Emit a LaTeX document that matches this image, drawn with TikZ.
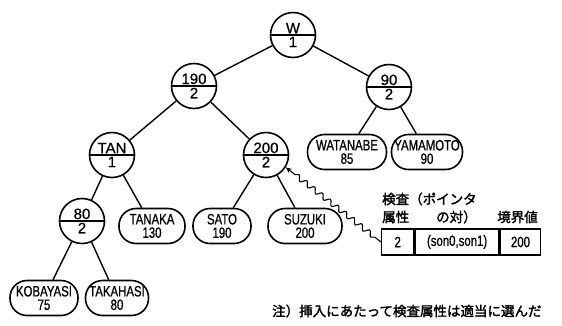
\documentclass[tikz,border=0pt]{standalone}
\usepackage{fontspec}
\setmainfont{Liberation Sans}[FakeBold=1]
\newfontfamily\circsf{Liberation Sans}[FakeBold=0.8]
\newfontfamily\narrowsf{Liberation Sans}[FakeStretch=0.76,FakeBold=0.8]
\newfontfamily\jp{Noto Sans CJK JP}[FakeBold=2]
\usetikzlibrary{shapes.multipart,decorations.pathmorphing,arrows.meta}
\begin{document}
\begin{tikzpicture}[x=1pt,y=-1pt,
  inode/.style={circle split,draw,line width=1.6pt,minimum size=45pt,inner sep=1pt,
    font=\circsf\fontsize{15}{15}\selectfont},
  leaf/.style={draw,line width=1.6pt,rounded corners=17pt,minimum height=35pt,inner sep=1pt,
    align=center,font=\narrowsf\fontsize{15}{13.5}\selectfont},
  edge/.style={line width=1.4pt},
  cell/.style={draw,line width=1.4pt,minimum height=26pt,inner sep=1pt,anchor=west,
    font=\narrowsf\fontsize{15}{13}\selectfont},
  jlab/.style={font=\jp\fontsize{13.5}{14}\selectfont,inner sep=0pt}]
\useasboundingbox (0,0) rectangle (562,325);
\node[inode] (w) at (293,35) {W\nodepart{lower}1};
\node[inode] (n190) at (194,86) {190\nodepart{lower}2};
\node[inode] (n90) at (389,87) {90\nodepart{lower}2};
\node[inode] (tan) at (112,155) {TAN\nodepart{lower}1};
\node[inode] (n200) at (266,155) {200\nodepart{lower}2};
\node[inode] (n80) at (82,221) {80\nodepart{lower}2};
\node[leaf,minimum width=66pt] (tanaka) at (152,226) {TANAKA\\130};
\node[leaf,minimum width=58pt] (sato) at (222,226) {SATO\\190};
\node[leaf,minimum width=74pt] (suzuki) at (305,226) {SUZUKI\\200};
\node[leaf,minimum width=79pt] (watanabe) at (347,152) {WATANABE\\85};
\node[leaf,minimum width=71pt] (yamamoto) at (427,152) {YAMAMOTO\\90};
\node[leaf,minimum width=68pt] (kobayasi) at (44,298) {KOBAYASI\\75};
\node[leaf,minimum width=63pt] (takahasi) at (117,298) {TAKAHASI\\80};
\draw[edge] (w) -- (n190);
\draw[edge] (w) -- (n90);
\draw[edge] (n190) -- (tan);
\draw[edge] (n190) -- (n200);
\draw[edge] (n90) -- (watanabe);
\draw[edge] (n90) -- (yamamoto);
\draw[edge] (tan) -- (n80);
\draw[edge] (tan) -- (tanaka);
\draw[edge] (n200) -- (sato);
\draw[edge] (n200) -- (suzuki);
\draw[edge] (n80) -- (kobayasi);
\draw[edge] (n80) -- (takahasi);
\node[cell,minimum width=32pt] (c1) at (381,242) {2};
\node[cell,minimum width=84pt] (c2) at (c1.east) {(son0,son1)};
\node[cell,minimum width=40pt] (c3) at (c2.east) {200};
\node[jlab,anchor=west] (l1) at (382,199) {検査（ポインタ};
\node[jlab,anchor=west] (l2) at (382,217) {属性};
\node[jlab,anchor=west] (l3) at (436,217) {の対）};
\node[jlab,anchor=east] (l4) at (538,217) {境界値};
\draw[line width=1.1pt,-{Stealth[length=6pt,width=5pt]},decorate,
  decoration={snake,amplitude=2.5pt,segment length=10pt,pre length=8pt,post length=8pt}]
  (c1.west) -- (n200.-32);
\node[jlab,anchor=west] (note) at (272,311) {注）挿入にあたって検査属性は適当に選んだ};
\end{tikzpicture}
\end{document}
